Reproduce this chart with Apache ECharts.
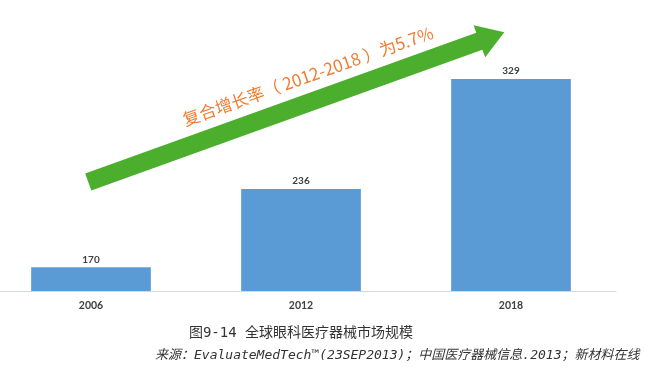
<!DOCTYPE html>
<html><head><meta charset="utf-8">
<script src="https://cdn.jsdelivr.net/npm/echarts@6/dist/echarts.min.js"></script>
<style>html,body{margin:0;padding:0;background:#fff}#c{width:645px;height:371px}</style>
</head><body><div id="c"></div>
<script>
var categories = ['2006', '2012', '2018'];
var marketSize = [170, 236, 329];
var arrowText = '复合增长率（ 2012-2018 ）为5.7%';
var captionText = '图9-14 全球眼科医疗器械市场规模';
var sourceText = '来源：EvaluateMedTech™(23SEP2013)；中国医疗器械信息.2013；新材料在线';

var chart = echarts.init(document.getElementById('c'));
chart.setOption({
  animation: false,
  backgroundColor: '#fff',
  grid: { left: -14, width: 630, top: 54, bottom: 80, outerBoundsMode: 'none', containLabel: false },
  xAxis: {
    type: 'category', data: categories,
    axisLine: { lineStyle: { color: '#D9D9D9', width: 1 } },
    axisTick: { show: false },
    axisLabel: { color: '#404040', fontSize: 10.5, fontWeight: 'bold', margin: 9, fontFamily: 'Lato, Open Sans, sans-serif' }
  },
  yAxis: { type: 'value', min: 150, max: 350, show: false, splitLine: { show: false } },
  series: [{
    type: 'bar', data: marketSize, barWidth: '57%',
    itemStyle: { color: '#5B9BD5' },
    label: { show: true, position: 'top', distance: 3, color: '#404040', fontSize: 10, fontWeight: 'bold', fontFamily: 'Lato, Open Sans, sans-serif' }
  }],
  graphic: [
    {
      type: 'polygon', z: 10,
      shape: { points: [[85.2,173.5],[476.3,32.8],[473.6,25.3],[504.3,32.3],[485.2,57.3],[482.4,49.8],[91.3,190.5]] },
      style: { fill: '#4BAE2C' }
    },
    {
      type: 'text', z: 11, x: 308, y: 76, rotation: 19.5 * Math.PI / 180,
      style: { text: arrowText, fill: '#F07C32', fontSize: 17, fontFamily: 'Noto Sans CJK SC, sans-serif', align: 'center', verticalAlign: 'middle' }
    },
    {
      type: 'text', x: 301, y: 333,
      style: { text: captionText, fill: '#333', fontSize: 14, fontFamily: 'DejaVu Sans Mono, Noto Sans CJK SC', align: 'center', verticalAlign: 'middle' }
    },
    {
      type: 'text', x: 155, y: 356,
      style: { text: sourceText, fill: '#333', fontSize: 13, fontStyle: 'italic', fontFamily: 'DejaVu Sans Mono, Noto Sans CJK SC', align: 'left', verticalAlign: 'middle' }
    }
  ]
});
</script></body></html>
